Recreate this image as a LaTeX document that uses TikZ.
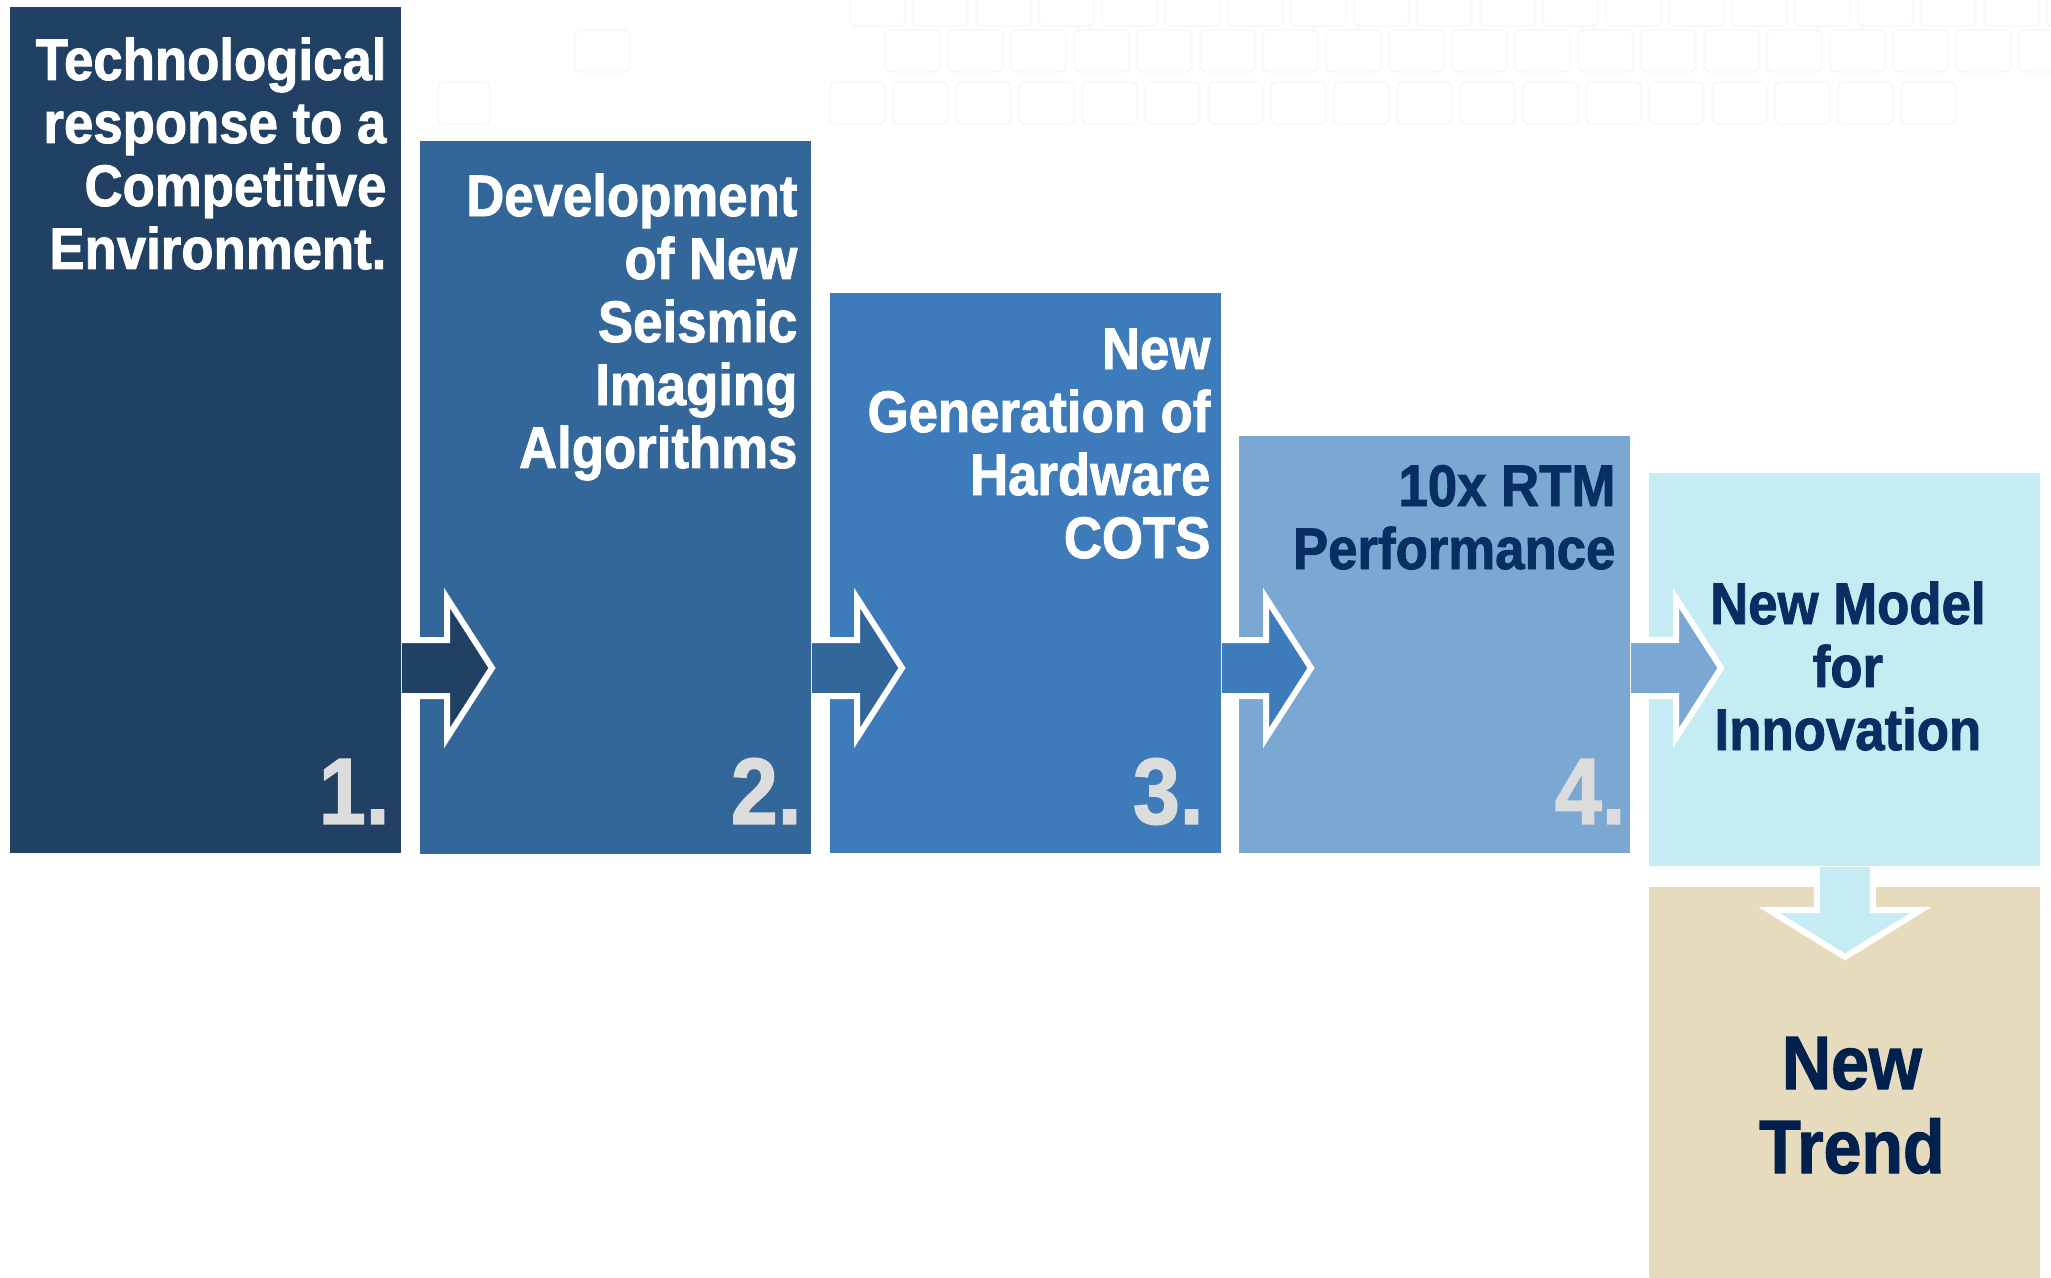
\documentclass[tikz,border=0pt]{standalone}
\usepackage{fontspec}
\setmainfont{Liberation Sans}[FakeStretch=0.9, BoldFeatures={FakeBold=1.5}]
\usepackage{tikz}
\usetikzlibrary{positioning, calc}
\definecolor{StepOne}{RGB}{32,64,100}
\definecolor{StepTwo}{RGB}{51,102,153}
\definecolor{StepThree}{RGB}{61,123,186}
\definecolor{StepFour}{RGB}{123,168,210}
\definecolor{StepFive}{RGB}{198,236,243}
\definecolor{TrendTan}{RGB}{230,219,188}
\definecolor{InkNavy}{RGB}{8,46,100}
\definecolor{TrendNavy}{RGB}{0,32,78}
\definecolor{NumGray}{RGB}{220,220,220}

\begin{document}
\begin{tikzpicture}[x=0.5pt, y=-0.5pt,
    stepbox/.style={rectangle, draw=none, inner sep=0, anchor=north west,
                    minimum width=195.5pt},
    steptext/.style={font=\bfseries\fontsize{29.3}{31.5}\selectfont,
                     text=white, align=right, anchor=base east, inner sep=0},
    stepnum/.style={font=\bfseries\fontsize{47}{47}\selectfont,
                    text=NumGray, anchor=base east, inner sep=0},
    flow/.style={draw=white, line width=3pt, line join=miter},
    tile/.style={draw=black!6, fill=white, rounded corners=3pt}]
  \useasboundingbox (0,0) rectangle (2051,1278);
  \fill[white] (0,0) rectangle (2051,1278);
  % faint tiles in the background
  \foreach \i in {0,...,19}
    \draw[tile] ({850+63*\i},-10) rectangle ++(55,36);
  \foreach \i in {0,...,18}
    \draw[tile] ({885+63*\i},30) rectangle ++(55,42);
  \foreach \i in {0,...,17}
    \draw[tile] ({830+63*\i},82) rectangle ++(55,42);
  \draw[tile] (575,30) rectangle ++(55,42);
  \draw[tile] (438,82) rectangle ++(52,42);

  % steps
  \node[stepbox, fill=StepOne,   minimum height=423pt]   (b1) at (10,7)     {};
  \node[stepbox, fill=StepTwo,   minimum height=356.5pt] (b2) at (420,141)  {};
  \node[stepbox, fill=StepThree, minimum height=280pt]   (b3) at (830,293)  {};
  \node[stepbox, fill=StepFour,  minimum height=208.5pt] (b4) at (1239,436) {};
  \node[stepbox, fill=StepFive,  minimum height=196.5pt] (b5) at (1649,473) {};
  \node[stepbox, fill=TrendTan,  minimum height=200pt]   (b6) at (1649,887) {};
  \coordinate (axis) at (0,668);

  % arrows between the steps
  \foreach \a/\b/\c in {b1/b2/StepOne, b2/b3/StepTwo, b3/b4/StepThree, b4/b5/StepFour}
    \path[flow, fill=\c]
      ($(\a.east |- axis)+(0,-28)$) -- ($(\b.west |- axis)+(27,-28)$)
      -- ++(0,-42) -- ($(\b.west |- axis)+(72,0)$)
      -- ($(\b.west |- axis)+(27,70)$) -- ++(0,-42)
      -- ($(\a.east |- axis)+(0,28)$);
  \path[flow, fill=StepFive]
    ($(b5.south)+(-28,0)$) -- ($(b6.north)+(-28,23)$)
    -- ++(-48,0) -- ($(b6.north)+(0,70)$)
    -- ($(b6.north)+(76,23)$) -- ++(-48,0)
    -- ($(b5.south)+(28,0)$);

  % texts (anchored on the last line)
  \node[steptext] (t1) at ($(b1.north east)+(-15,262)$)
    {Technological\\response to a\\Competitive\\Environment.};
  \node[steptext] (t2) at ($(b2.north east)+(-14,327)$)
    {Development\\of New\\Seismic\\Imaging\\Algorithms};
  \node[steptext] (t3) at ($(b3.north east)+(-11,265)$)
    {New\\Generation of\\Hardware\\COTS};
  \node[steptext, text=InkNavy] (t4) at ($(b4.north east)+(-15,133)$)
    {10x RTM\\Performance};
  \node[steptext, text=InkNavy, align=center, anchor=base] (t5)
    at ($(b5.north)+(3,277)$) {New Model\\for\\Innovation};
  \node[steptext, text=TrendNavy, align=center, anchor=base,
        font=\bfseries\fontsize{37.8}{42}\selectfont] (t6)
    at ($(b6.north)+(7,286)$) {New\\Trend};

  % step numbers
  \node[stepnum] (n1) at ($(b1.south east)+(-12,-30)$) {1.};
  \node[stepnum] (n2) at ($(b2.south east)+(-10,-31)$) {2.};
  \node[stepnum] (n3) at ($(b3.south east)+(-18,-30)$) {3.};
  \node[stepnum] (n4) at ($(b4.south east)+(-5,-30)$)  {4.};
\end{tikzpicture}
\end{document}
